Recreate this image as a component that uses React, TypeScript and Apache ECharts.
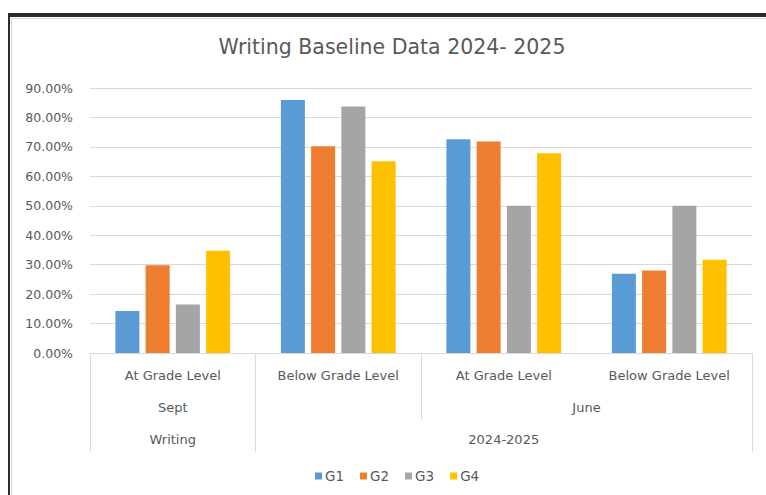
import React, { useEffect, useRef } from "react";
import * as echarts from "echarts";

const titleText = "Writing Baseline Data 2024- 2025";
const categories = ["At Grade Level", "Below Grade Level", "At Grade Level", "Below Grade Level"];
// group spans in category indices
const periodGroups = [
  { label: "Sept", start: 0, end: 1 },
  { label: "", start: 1, end: 2 },
  { label: "June", start: 2, end: 4 },
];
const yearGroups = [
  { label: "Writing", start: 0, end: 1 },
  { label: "2024-2025", start: 1, end: 4 },
];
const seriesNames = ["G1", "G2", "G3", "G4"];
const g1 = [14.3, 85.9, 72.6, 26.9];
const g2 = [29.8, 70.2, 71.8, 28.0];
const g3 = [16.5, 83.7, 50.0, 50.0];
const g4 = [34.7, 65.1, 67.8, 31.7];
const yMin = 0;
const yMax = 90;
const yInterval = 10;

const colors = ["#5B9BD5", "#ED7D31", "#A5A5A5", "#FFC000"];
const FONT = "DejaVu Sans";
const TXT = "#595959";
const LINE = "#d9d9d9";

function groupLabelMap(groups: { label: string; start: number; end: number }[]) {
  const m: Record<string, string> = {};
  groups.forEach((g) => {
    if (g.label) m[String((g.start + g.end) / 2)] = g.label;
  });
  return m;
}
function groupCenters(groups: { label: string; start: number; end: number }[]) {
  return groups.filter((g) => g.label).map((g) => (g.start + g.end) / 2);
}
function groupBounds(groups: { label: string; start: number; end: number }[]) {
  const s = new Set<number>();
  groups.forEach((g) => {
    s.add(g.start);
    s.add(g.end);
  });
  return Array.from(s).sort((a, b) => a - b);
}

export default function App() {
  const ref = useRef<HTMLDivElement>(null);
  useEffect(() => {
    if (!ref.current) return;
    const chart = echarts.init(ref.current, null, { renderer: "svg" });
    const pMap = groupLabelMap(periodGroups);
    const yMap = groupLabelMap(yearGroups);
    const n = categories.length;
    const data = [g1, g2, g3, g4];
    const labelStyle = { color: TXT, fontFamily: FONT, fontSize: 13 };
    const option: any = {
      animation: false,
      backgroundColor: "#ffffff",
      color: colors,
      graphic: [
        { type: "rect", shape: { x: 8, y: 13, width: 758, height: 4 }, style: { fill: "#2b2b2b" }, z: 100 },
        { type: "rect", shape: { x: 8, y: 13, width: 2, height: 482 }, style: { fill: "#2b2b2b" }, z: 100 },
        { type: "rect", shape: { x: 11, y: 18, width: 755, height: 1 }, style: { fill: "#d4d4d4" }, z: 100 },
        { type: "rect", shape: { x: 11, y: 18, width: 1, height: 477 }, style: { fill: "#d4d4d4" }, z: 100 },
        {
          type: "text",
          x: 392,
          y: 47,
          style: {
            text: titleText,
            fill: TXT,
            font: `20.5px "${FONT}"`,
            align: "center",
            verticalAlign: "middle",
          },
        },
      ],
      legend: {
        data: seriesNames,
        left: 315,
        top: 469,
        padding: 0,
        icon: "rect",
        itemWidth: 7,
        itemHeight: 7,
        itemGap: 16,
        textStyle: { color: TXT, fontFamily: FONT, fontSize: 13.5, padding: [0, 0, 0, -2] },
      },
      grid: { left: 90, right: 14, top: 88, bottom: 142, containLabel: false },
      xAxis: [
        {
          type: "category",
          data: categories,
          boundaryGap: true,
          axisLine: { show: true, lineStyle: { color: LINE, width: 1 } },
          axisTick: { show: false },
          axisLabel: { ...labelStyle, interval: 0, margin: 16 },
          splitLine: { show: false },
        },
        {
          type: "value",
          min: 0,
          max: n,
          position: "bottom",
          axisLine: { show: false },
          splitLine: { show: false },
          axisTick: {
            show: true,
            customValues: groupBounds(periodGroups),
            length: 67,
            lineStyle: { color: LINE, width: 1 },
          },
          axisLabel: {
            ...labelStyle,
            customValues: groupCenters(periodGroups),
            margin: 48,
            formatter: (v: number) => pMap[String(v)] || "",
          },
        },
        {
          type: "value",
          min: 0,
          max: n,
          position: "bottom",
          axisLine: { show: false },
          splitLine: { show: false },
          axisTick: {
            show: true,
            customValues: groupBounds(yearGroups),
            length: 99,
            lineStyle: { color: LINE, width: 1 },
          },
          axisLabel: {
            ...labelStyle,
            customValues: groupCenters(yearGroups),
            margin: 80,
            formatter: (v: number) => yMap[String(v)] || "",
          },
        },
      ],
      yAxis: {
        type: "value",
        min: yMin,
        max: yMax,
        interval: yInterval,
        axisLine: { show: false },
        axisTick: { show: false },
        splitLine: { show: true, lineStyle: { color: LINE, width: 1 } },
        axisLabel: {
          ...labelStyle,
          fontSize: 12.5,
          margin: 17,
          formatter: (v: number) => v.toFixed(2) + "%",
        },
      },
      series: seriesNames.map((name, i) => ({
        name,
        type: "bar",
        xAxisIndex: 0,
        yAxisIndex: 0,
        data: data[i],
        barWidth: 24,
        barGap: "26%",
        itemStyle: { color: colors[i] },
      })),
    };
    chart.setOption(option);
    return () => chart.dispose();
  }, []);
  return (
    <div
      ref={ref}
      style={{ position: "absolute", left: 0, top: 0, width: 766, height: 495 }}
    />
  );
}
